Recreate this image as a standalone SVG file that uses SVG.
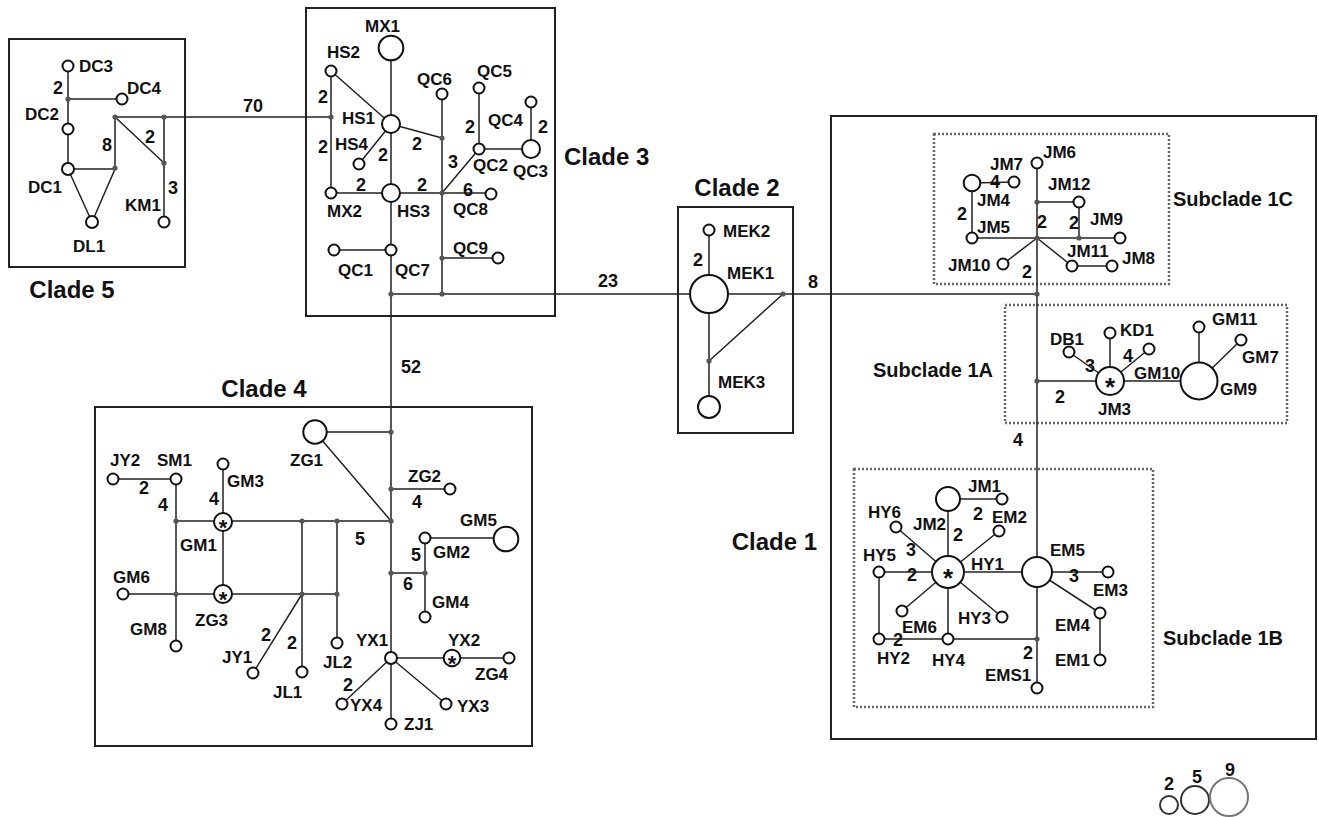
<svg xmlns="http://www.w3.org/2000/svg" width="1319" height="817" viewBox="0 0 1319 817">
<style>
text{font-family:"Liberation Sans",Arial,sans-serif;font-weight:bold;fill:#111}
.lb{font-size:17px}
.w{font-size:18px}
.cl{font-size:24px}
.sc{font-size:20px}
.n{fill:#fff;stroke:#111;stroke-width:2}
.d{fill:#555;stroke:none}
.e{stroke:#222;stroke-width:1.5;fill:none}
.box{fill:none;stroke:#222;stroke-width:2}
.dbox{fill:none;stroke:#666;stroke-width:2.5;stroke-dasharray:2 2}
.ast{font-size:22px;text-anchor:middle}
.asb{font-size:26px;text-anchor:middle}
.lg{fill:#fff;stroke-width:2}
</style>
<rect width="1319" height="817" fill="#fff"/>
<g id="clades">
<rect class="box" x="9" y="39" width="176" height="228"/>
<text class="cl" x="72" y="298" text-anchor="middle">Clade 5</text>
<rect class="box" x="306" y="8" width="249" height="308"/>
<text class="cl" x="564" y="165">Clade 3</text>
<rect class="box" x="678" y="207" width="115" height="226"/>
<text class="cl" x="737" y="196" text-anchor="middle">Clade 2</text>
<rect class="box" x="95" y="407" width="437" height="339"/>
<text class="cl" x="264" y="397" text-anchor="middle">Clade 4</text>
<rect class="box" x="831" y="116" width="485" height="623"/>
<text class="cl" x="817" y="550" text-anchor="end">Clade 1</text>
<rect class="dbox" x="934" y="134" width="235" height="150"/>
<text class="sc" x="1173" y="206">Subclade 1C</text>
<rect class="dbox" x="1005" y="305" width="282" height="118"/>
<text class="sc" x="993" y="377" text-anchor="end">Subclade 1A</text>
<rect class="dbox" x="854" y="469" width="299" height="238"/>
<text class="sc" x="1163" y="645">Subclade 1B</text>
</g>
<g id="connectors">
<path class="e" d="M68,66V169M68,99H122M68,169L92,222M68,169H115L92,222M115,168V117H331M115,117L164,163M164,117V222"/>
<path class="e" d="M331,71V193M331,71L391,124M391,48V193M391,124L359,164M391,124L442,138M331,193H442M442,94V294M442,193H491M442,193L479,149M479,88V149H531M531,102V149M442,258H498M391,193V432M334,250H391M391,294H709"/>
<path class="e" d="M709,230V407M709,294H1037M709,361L783,294"/>
<path class="e" d="M1037,163V688M1037,202H1079V238M972,238H1120M972,183V238M972,183L1014,182M1037,238L1003,264M1037,238L1072,266H1112"/>
<path class="e" d="M1037,381H1199M1069,352L1110,381M1110,333V381M1110,381L1149,349M1199,327V381M1199,381L1241,340"/>
<path class="e" d="M879,572H1108M948,499V639M948,499H1002M948,572L999,531M948,572L896,527M948,572L902,611M948,572L1002,617M879,572V639H1037M1037,572L1100,613V660"/>
<path class="e" d="M391,432V724M315,432H391M315,432L391,521M391,489H450M176,521H391M391,573H425M425,538V617M425,538H506M391,658H509M391,658L342,704M391,658L446,704M176,479V646M113,479H176M223,464V594M123,594H337M302,521V672M302,594L253,673M337,521V643"/>
<g>
<circle class="d" cx="68" cy="99" r="2.6"/><circle class="d" cx="115" cy="168" r="2.6"/><circle class="d" cx="115" cy="117" r="2.6"/><circle class="d" cx="164" cy="117" r="2.6"/><circle class="d" cx="164" cy="163" r="2.6"/>
<circle class="d" cx="331" cy="117" r="2.6"/><circle class="d" cx="442" cy="138" r="2.6"/><circle class="d" cx="442" cy="193" r="2.6"/><circle class="d" cx="442" cy="258" r="2.6"/><circle class="d" cx="442" cy="294" r="2.6"/><circle class="d" cx="391" cy="294" r="2.6"/>
<circle class="d" cx="783" cy="294" r="2.6"/><circle class="d" cx="709" cy="361" r="2.6"/>
<circle class="d" cx="1037" cy="294" r="2.6"/><circle class="d" cx="1037" cy="202" r="2.6"/><circle class="d" cx="1037" cy="238" r="2.6"/><circle class="d" cx="1079" cy="238" r="2.6"/><circle class="d" cx="1037" cy="381" r="2.6"/><circle class="d" cx="1037" cy="639" r="2.6"/>
<circle class="d" cx="391" cy="432" r="2.6"/><circle class="d" cx="391" cy="489" r="2.6"/><circle class="d" cx="391" cy="521" r="2.6"/><circle class="d" cx="391" cy="573" r="2.6"/><circle class="d" cx="425" cy="573" r="2.6"/><circle class="d" cx="176" cy="521" r="2.6"/><circle class="d" cx="302" cy="521" r="2.6"/><circle class="d" cx="337" cy="521" r="2.6"/><circle class="d" cx="176" cy="594" r="2.6"/><circle class="d" cx="302" cy="594" r="2.6"/><circle class="d" cx="337" cy="594" r="2.6"/>
</g>
<g class="w">
<text x="53" y="94">2</text><text x="102" y="151">8</text><text x="145" y="143">2</text><text x="168" y="194">3</text>
<text x="243" y="112">70</text>
<text x="318" y="103">2</text><text x="318" y="153">2</text><text x="378" y="161">2</text><text x="412" y="150">2</text><text x="356" y="191">2</text><text x="417" y="191">2</text><text x="465" y="133">2</text><text x="538" y="133">2</text><text x="448" y="168">3</text><text x="463" y="196">6</text>
<text x="401" y="373">52</text><text x="598" y="287">23</text><text x="693" y="266">2</text><text x="808" y="288">8</text>
<text x="990" y="188">4</text><text x="957" y="220">2</text><text x="1037" y="228">2</text><text x="1069" y="229">2</text><text x="1022" y="278">2</text>
<text x="1085" y="372">3</text><text x="1123" y="362">4</text><text x="1055" y="403">2</text><text x="1013" y="446">4</text>
<text x="973" y="520">2</text><text x="953" y="541">2</text><text x="906" y="556">3</text><text x="907" y="581">2</text><text x="1069" y="582">3</text><text x="893" y="646">2</text><text x="1023" y="659">2</text>
<text x="412" y="508">4</text><text x="355" y="545">5</text><text x="411" y="561">5</text><text x="403" y="590">6</text><text x="343" y="691">2</text><text x="139" y="494">2</text><text x="158" y="511">4</text><text x="209" y="505">4</text><text x="261" y="641">2</text><text x="287" y="649">2</text>
</g>
</g>
<g id="nodes" class="lb">
<g id="DC3"><circle class="n" cx="68" cy="66" r="5.5"/><text x="79" y="72">DC3</text></g>
<g id="DC4"><circle class="n" cx="122" cy="99" r="5.5"/><text x="127" y="94">DC4</text></g>
<g id="DC2"><circle class="n" cx="68" cy="129" r="5.5"/><text x="25" y="120">DC2</text></g>
<g id="DC1"><circle class="n" cx="68" cy="169" r="6"/><text x="28" y="193">DC1</text></g>
<g id="DL1"><circle class="n" cx="92" cy="222" r="6"/><text x="73" y="252">DL1</text></g>
<g id="KM1"><circle class="n" cx="164" cy="222" r="5.5"/><text x="125" y="211">KM1</text></g>
<g id="MX1"><circle class="n" cx="391" cy="48" r="12.3"/><text x="365" y="32">MX1</text></g>
<g id="HS2"><circle class="n" cx="331" cy="71" r="5.5"/><text x="327" y="58">HS2</text></g>
<g id="HS1"><circle class="n" cx="391" cy="124" r="9"/><text x="342" y="124">HS1</text></g>
<g id="HS4"><circle class="n" cx="359" cy="164" r="5.5"/><text x="335" y="150">HS4</text></g>
<g id="MX2"><circle class="n" cx="331" cy="193" r="5.5"/><text x="327" y="217">MX2</text></g>
<g id="HS3"><circle class="n" cx="391" cy="193" r="9"/><text x="397" y="217">HS3</text></g>
<g id="QC6"><circle class="n" cx="442" cy="94" r="5.5"/><text x="417" y="85">QC6</text></g>
<g id="QC5"><circle class="n" cx="479" cy="88" r="5.5"/><text x="477" y="77">QC5</text></g>
<g id="QC4"><circle class="n" cx="531" cy="102" r="5.5"/><text x="488" y="126">QC4</text></g>
<g id="QC2"><circle class="n" cx="479" cy="149" r="5.5"/><text x="473" y="171">QC2</text></g>
<g id="QC3"><circle class="n" cx="531" cy="149" r="9"/><text x="513" y="177">QC3</text></g>
<g id="QC8"><circle class="n" cx="491" cy="194" r="5.5"/><text x="453" y="215">QC8</text></g>
<g id="QC9"><circle class="n" cx="498" cy="258" r="5.5"/><text x="453" y="254">QC9</text></g>
<g id="QC1"><circle class="n" cx="334" cy="250" r="5.5"/><text x="338" y="276">QC1</text></g>
<g id="QC7"><circle class="n" cx="391" cy="250" r="5.5"/><text x="395" y="276">QC7</text></g>
<g id="MEK2"><circle class="n" cx="709" cy="230" r="5.5"/><text x="723" y="237">MEK2</text></g>
<g id="MEK1"><circle class="n" cx="709" cy="294" r="19"/><text x="727" y="279">MEK1</text></g>
<g id="MEK3"><circle class="n" cx="709" cy="407" r="11"/><text x="718" y="388">MEK3</text></g>
<g id="JM6"><circle class="n" cx="1037" cy="163" r="5.5"/><text x="1043" y="158">JM6</text></g>
<g id="JM7"><circle class="n" cx="1014" cy="182" r="5.5"/><text x="990" y="170">JM7</text></g>
<g id="JM4"><circle class="n" cx="972" cy="183" r="8.3"/><text x="977" y="206">JM4</text></g>
<g id="JM12"><circle class="n" cx="1079" cy="202" r="5.5"/><text x="1048" y="190">JM12</text></g>
<g id="JM5"><circle class="n" cx="972" cy="238" r="5.5"/><text x="977" y="233">JM5</text></g>
<g id="JM9"><circle class="n" cx="1120" cy="238" r="5.5"/><text x="1090" y="225">JM9</text></g>
<g id="JM10"><circle class="n" cx="1003" cy="264" r="5.5"/><text x="948" y="271">JM10</text></g>
<g id="JM11"><circle class="n" cx="1072" cy="266" r="5.5"/><text x="1067" y="257">JM11</text></g>
<g id="JM8"><circle class="n" cx="1112" cy="266" r="5.5"/><text x="1122" y="264">JM8</text></g>
<g id="DB1"><circle class="n" cx="1069" cy="352" r="5.5"/><text x="1050" y="345">DB1</text></g>
<g id="KD1"><circle class="n" cx="1110" cy="333" r="5.5"/><text x="1120" y="336">KD1</text></g>
<g id="GM10"><circle class="n" cx="1149" cy="349" r="5.5"/><text x="1134" y="379">GM10</text></g>
<g id="JM3"><circle class="n" cx="1110" cy="381" r="14"/><text class="asb" x="1110" y="396">*</text><text x="1098" y="415">JM3</text></g>
<g id="GM9"><circle class="n" cx="1199" cy="381" r="18.5"/><text x="1220" y="395">GM9</text></g>
<g id="GM11"><circle class="n" cx="1199" cy="327" r="5.5"/><text x="1212" y="325">GM11</text></g>
<g id="GM7"><circle class="n" cx="1241" cy="340" r="5.5"/><text x="1242" y="363">GM7</text></g>
<g id="JM2"><circle class="n" cx="948" cy="499" r="12"/><text x="913" y="530">JM2</text></g>
<g id="JM1"><circle class="n" cx="1002" cy="499" r="5.5"/><text x="968" y="492">JM1</text></g>
<g id="EM2"><circle class="n" cx="999" cy="531" r="5.5"/><text x="992" y="523">EM2</text></g>
<g id="HY6"><circle class="n" cx="896" cy="527" r="5.5"/><text x="868" y="518">HY6</text></g>
<g id="HY5"><circle class="n" cx="879" cy="572" r="5.5"/><text x="863" y="561">HY5</text></g>
<g id="HY1"><circle class="n" cx="948" cy="572" r="16"/><text class="asb" x="948" y="587">*</text><text x="971" y="570">HY1</text></g>
<g id="EM5"><circle class="n" cx="1037" cy="572" r="15"/><text x="1050" y="556">EM5</text></g>
<g id="EM3"><circle class="n" cx="1108" cy="572" r="5.5"/><text x="1093" y="596">EM3</text></g>
<g id="EM6"><circle class="n" cx="902" cy="611" r="5.5"/><text x="902" y="633">EM6</text></g>
<g id="HY3"><circle class="n" cx="1002" cy="617" r="5.5"/><text x="958" y="624">HY3</text></g>
<g id="EM4"><circle class="n" cx="1100" cy="613" r="5.5"/><text x="1055" y="631">EM4</text></g>
<g id="HY2"><circle class="n" cx="879" cy="639" r="5.5"/><text x="877" y="664">HY2</text></g>
<g id="HY4"><circle class="n" cx="948" cy="639" r="5.5"/><text x="932" y="666">HY4</text></g>
<g id="EMS1"><circle class="n" cx="1037" cy="688" r="5.5"/><text x="985" y="681">EMS1</text></g>
<g id="EM1"><circle class="n" cx="1100" cy="660" r="5.5"/><text x="1055" y="666">EM1</text></g>
<g id="ZG1"><circle class="n" cx="315" cy="432" r="11.7"/><text x="290" y="466">ZG1</text></g>
<g id="ZG2"><circle class="n" cx="450" cy="489" r="5.5"/><text x="408" y="482">ZG2</text></g>
<g id="GM2"><circle class="n" cx="425" cy="538" r="5.5"/><text x="433" y="558">GM2</text></g>
<g id="GM5"><circle class="n" cx="506" cy="539" r="12.3"/><text x="460" y="526">GM5</text></g>
<g id="GM4"><circle class="n" cx="425" cy="617" r="5.5"/><text x="432" y="608">GM4</text></g>
<g id="YX1"><circle class="n" cx="391" cy="658" r="6"/><text x="356" y="646">YX1</text></g>
<g id="YX2"><circle class="n" cx="452" cy="658" r="8.3"/><text class="ast" x="452" y="671">*</text><text x="448" y="646">YX2</text></g>
<g id="ZG4"><circle class="n" cx="509" cy="658" r="5.5"/><text x="475" y="680">ZG4</text></g>
<g id="YX4"><circle class="n" cx="342" cy="704" r="5.5"/><text x="350" y="711">YX4</text></g>
<g id="YX3"><circle class="n" cx="446" cy="704" r="5.5"/><text x="457" y="712">YX3</text></g>
<g id="ZJ1"><circle class="n" cx="391" cy="724" r="5.5"/><text x="404" y="730">ZJ1</text></g>
<g id="JY2"><circle class="n" cx="113" cy="479" r="5.5"/><text x="110" y="466">JY2</text></g>
<g id="SM1"><circle class="n" cx="176" cy="479" r="5.5"/><text x="157" y="466">SM1</text></g>
<g id="GM3"><circle class="n" cx="223" cy="464" r="5.5"/><text x="227" y="487">GM3</text></g>
<g id="GM1"><circle class="n" cx="223" cy="522" r="9"/><text class="ast" x="223" y="535">*</text><text x="180" y="551">GM1</text></g>
<g id="ZG3"><circle class="n" cx="223" cy="594" r="9"/><text class="ast" x="223" y="607">*</text><text x="195" y="626">ZG3</text></g>
<g id="GM6"><circle class="n" cx="123" cy="594" r="5.5"/><text x="113" y="583">GM6</text></g>
<g id="GM8"><circle class="n" cx="176" cy="646" r="5.5"/><text x="130" y="635">GM8</text></g>
<g id="JY1"><circle class="n" cx="253" cy="673" r="5.5"/><text x="222" y="663">JY1</text></g>
<g id="JL1"><circle class="n" cx="302" cy="672" r="5.5"/><text x="273" y="698">JL1</text></g>
<g id="JL2"><circle class="n" cx="337" cy="643" r="5.5"/><text x="323" y="668">JL2</text></g>
</g>
<g id="legend" class="w" text-anchor="middle">
<circle class="lg" cx="1169" cy="805" r="9" stroke="#333"/><text x="1169" y="790">2</text>
<circle class="lg" cx="1195" cy="800" r="14" stroke="#333"/><text x="1197" y="783">5</text>
<circle class="lg" cx="1229" cy="797" r="19" stroke="#777"/><text x="1230" y="776">9</text>
</g>
</svg>
